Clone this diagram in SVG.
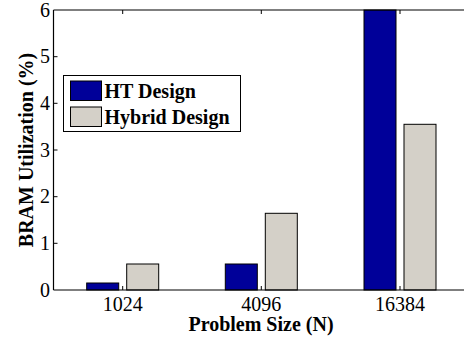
<svg xmlns="http://www.w3.org/2000/svg" width="464" height="337" viewBox="0 0 464 337">
<style>
.ax{stroke:#000;stroke-width:1.2;fill:none}
.tk{stroke:#000;stroke-width:1;fill:none}
.ht{fill:#000099;stroke:#000;stroke-width:1}
.hy{fill:#d4d0c8;stroke:#000;stroke-width:1}
.num{font-family:"Liberation Serif","Times New Roman",serif;font-size:20px;fill:#000}
.lab{font-family:"Liberation Serif","Times New Roman",serif;font-size:20px;font-weight:bold;fill:#000}
</style>
<rect width="464" height="337" fill="#fff"/>
<g id="bars">
<rect class="ht" x="86.7" y="283" width="32" height="7"/>
<rect class="hy" x="126.7" y="264" width="32" height="26"/>
<rect class="ht" x="225.3" y="264" width="32" height="26"/>
<rect class="hy" x="265.3" y="213.3" width="32" height="76.7"/>
<rect class="ht" x="364" y="10" width="32" height="280"/>
<rect class="hy" x="404" y="124.3" width="32" height="165.7"/>
</g>
<g id="axes">
<path class="ax" d="M53.5,10 H464 M53.5,290 H464 M53.5,10 V290"/>
<path class="tk" d="M122.7,290 v-4 M261.3,290 v-4 M400,290 v-4 M122.7,10 v4 M261.3,10 v4 M400,10 v4 M53.5,243.3 h4 M53.5,196.7 h4 M53.5,150 h4 M53.5,103.3 h4 M53.5,56.7 h4"/>
</g>
<g id="yticks" class="num" text-anchor="end">
<text x="50" y="296.7">0</text>
<text x="50" y="250">1</text>
<text x="50" y="203.4">2</text>
<text x="50" y="156.7">3</text>
<text x="50" y="110">4</text>
<text x="50" y="63.4">5</text>
<text x="50" y="16.7">6</text>
</g>
<g id="xticks" class="num" text-anchor="middle">
<text x="122.7" y="310.5">1024</text>
<text x="261.3" y="310.5">4096</text>
<text x="400" y="310.5">16384</text>
</g>
<text id="xlabel" class="lab" x="261" y="331" text-anchor="middle">Problem Size (N)</text>
<text id="ylabel" class="lab" transform="translate(33,150) rotate(-90)" text-anchor="middle">BRAM Utilization (%)</text>
<g id="legend">
<rect x="63.5" y="75.5" width="177" height="56" fill="#fff" stroke="#000" stroke-width="1"/>
<rect class="ht" x="70.5" y="81" width="31" height="19.5"/>
<rect class="hy" x="70.5" y="107" width="31" height="19.5"/>
<text class="lab" x="104.5" y="97.5">HT Design</text>
<text class="lab" x="104.5" y="124">Hybrid Design</text>
</g>
</svg>
